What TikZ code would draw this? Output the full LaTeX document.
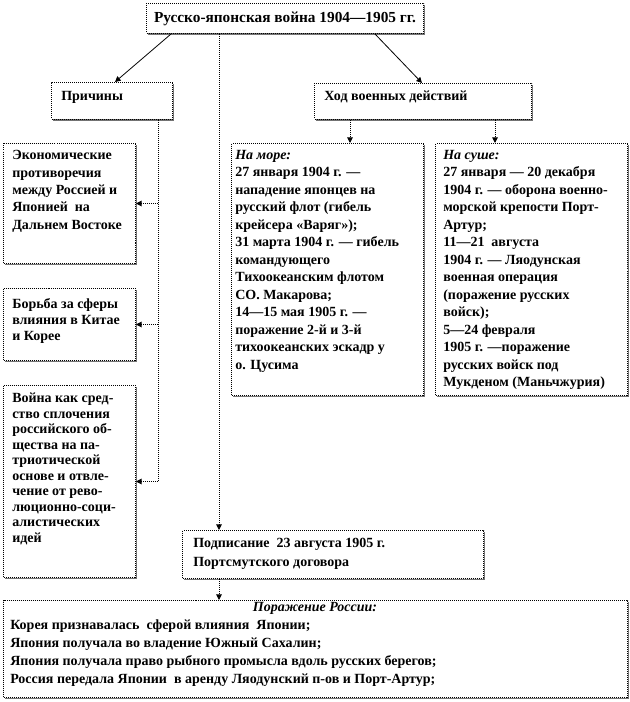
\documentclass[tikz,border=0pt]{standalone}
\usepackage{fontspec}
\setmainfont{Liberation Serif}
\usetikzlibrary{arrows.meta,shadows}
\newcommand{\fs}{\bfseries\fontsize{10.5}{13.1}\selectfont}
\begin{document}
\begin{tikzpicture}[x=0.75pt,y=-0.75pt,
  box/.style={draw=black, fill=white, line width=0.75pt, dash pattern=on 0.75pt off 0.75pt,
    inner sep=0pt, anchor=north west,
    general shadow={fill=black!55, shadow xshift=0.9pt, shadow yshift=-0.9pt}},
  txt/.style={inner sep=0pt, align=left, font=\fs},
  lnk/.style={line width=0.75pt, dash pattern=on 0.75pt off 0.75pt},
  conn/.style={lnk, -{Triangle[width=4.2pt,length=4.2pt]}},
  diag/.style={line width=0.6pt, -{Triangle[width=4.2pt,length=4.2pt]}}]
\useasboundingbox (0,0) rectangle (630,702);
% boxes
\node[box, minimum width=207.75pt, minimum height=22.5pt] (title) at (146,3) {};
\node[box, minimum width=90.75pt, minimum height=27.75pt] (prich) at (51,82) {};
\node[box, minimum width=162.75pt, minimum height=27pt] (hod) at (314,83) {};
\node[box, minimum width=99pt, minimum height=90pt] (econ) at (3,143) {};
\node[box, minimum width=99pt, minimum height=54pt] (borba) at (3,288) {};
\node[box, minimum width=99pt, minimum height=144pt] (voina) at (3,385) {};
\node[box, minimum width=144pt, minimum height=189pt] (more) at (231,143) {};
\node[box, minimum width=144pt, minimum height=189pt] (sushe) at (435,143) {};
\node[box, minimum width=225.75pt, minimum height=36pt] (podp) at (182,530) {};
\node[box, minimum width=468pt, minimum height=72.75pt] (porazh) at (3,600) {};
% texts
\node[txt, anchor=base, font=\bfseries\fontsize{11.5}{13}\selectfont] (titleT) at (285,23) {Русско-японская война 1904—1905 гг.};
\node[txt, anchor=base west] (prichT) at (61,101) {Причины};
\node[txt, anchor=base west] (hodT) at (324,101) {Ход военных действий};
\node[txt, anchor=north west, font=\bfseries\fontsize{10.5}{13.1}\selectfont] (econT) at (12,150)
  {Экономические\\противоречия\\между Россией и\\Японией\ \ на\\Дальнем Востоке};
\node[txt, anchor=north west, font=\bfseries\fontsize{10.5}{12}\selectfont] (borbaT) at (12,298)
  {Борьба за сферы\\влияния в Китае\\и Корее};
\node[txt, anchor=north west, font=\bfseries\fontsize{10.5}{11.6}\selectfont] (voinaT) at (12,393)
  {Война как сред-\\ство сплочения\\российского об-\\щества на па-\\триотической\\основе и отвле-\\чение от рево-\\люционно-соци-\\алистических\\идей};
\node[txt, anchor=north west] (moreT) at (235,150)
  {\textit{На море:}\\27 января 1904 г. —\\нападение японцев на\\русский флот (гибель\\крейсера «Варяг»);\\31 марта 1904 г. — гибель\\командующего\\Тихоокеанским флотом\\СО. Макарова;\\14—15 мая 1905 г. —\\поражение 2-й и 3-й\\тихоокеанских эскадр у\\о. Цусима};
\node[txt, anchor=north west] (susheT) at (443,150)
  {\textit{На суше:}\\27 января — 20 декабря\\1904 г. — оборона военно-\\морской крепости Порт-\\Артур;\\11—21\ \ августа\\1904 г. — Ляодунская\\военная операция\\(поражение русских\\войск);\\5—24 февраля\\1905 г. —поражение\\русских войск под\\Мукденом (Маньчжурия)};
\node[txt, anchor=north west, font=\bfseries\fontsize{10.5}{14}\selectfont] (podpT) at (193,538)
  {Подписание\ \ 23 августа 1905 г.\\Портсмутского договора};
\node[txt, anchor=base] (porazhH) at (315,611) {\textit{Поражение России:}};
\node[txt, anchor=north west, font=\bfseries\fontsize{10.5}{13.5}\selectfont] (porazhT) at (10,620)
  {Корея признавалась\ \ сферой влияния\ \ Японии;\\Япония получала во владение Южный Сахалин;\\Япония получала право рыбного промысла вдоль русских берегов;\\Россия передала Японии\ \ в аренду Ляодунский п-ов и Порт-Артур;};
% connectors
\draw[diag] (title.south west) ++(25,0) -- ([shift={(64,0)}]prich.north west);
\draw[diag] (title.south west) ++(229,0) -- ([shift={(108,0)}]hod.north west);
\draw[conn] (title.south west) ++(73,0) coordinate (t1) -- (t1 |- podp.north);
\draw[lnk] (prich.south west) ++(107,0) coordinate (pb) -- (pb |- voina.east);
\draw[conn] (pb |- econ.east) -- (econ.east);
\draw[conn] (pb |- borba.east) -- (borba.east);
\draw[conn] (pb |- voina.east) -- (voina.east);
\draw[conn] (hod.south west) ++(36,0) coordinate (h1) -- (h1 |- more.north);
\draw[conn] (hod.south west) ++(181,0) coordinate (h2) -- (h2 |- sushe.north);
\draw[conn] (podp.south west) ++(37,0) coordinate (p1) -- (p1 |- porazh.north);
\end{tikzpicture}
\end{document}
